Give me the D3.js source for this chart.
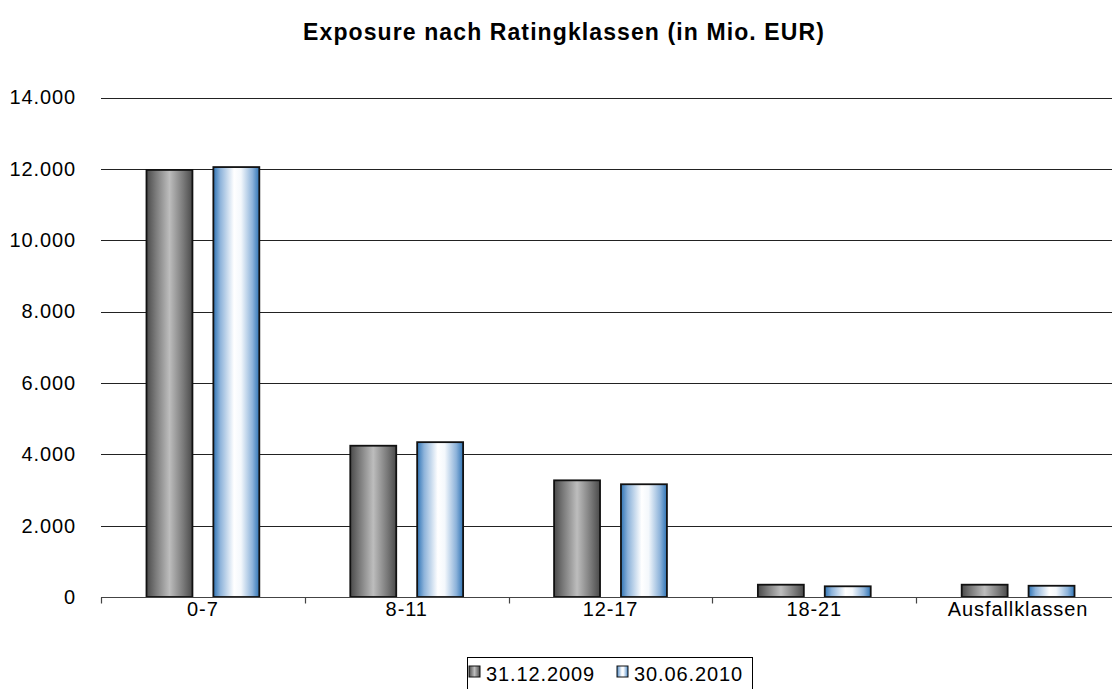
<!DOCTYPE html>
<html>
<head>
<meta charset="utf-8">
<script src="https://cdn.jsdelivr.net/npm/d3@7"></script>
<style>
  html, body { margin: 0; padding: 0; background: #fff; }
  svg { display: block; font-family: "Liberation Sans", Arial, sans-serif; }
</style>
</head>
<body>
<svg id="chart" width="1112" height="689"></svg>
<script>
// Exposure by rating class, in EUR millions
const categories = ["0-7", "8-11", "12-17", "18-21", "Ausfallklassen"];
const seriesNames = ["31.12.2009", "30.06.2010"];
const values2009 = [11970, 4240, 3270, 345, 345];
const values2010 = [12050, 4340, 3160, 300, 315];
const yTicks = [0, 2000, 4000, 6000, 8000, 10000, 12000, 14000];
const titleText = "Exposure nach Ratingklassen (in Mio. EUR)";

const svg = d3.select("#chart");
const margin = { left: 101, right: 1120, top: 97.5, bottom: 597 };
const labelFont = 20;
const labelSpacing = 0.9;

const defs = svg.append("defs");
function hGradient(id, stops) {
  const g = defs.append("linearGradient").attr("id", id)
    .attr("x1", "0%").attr("x2", "100%").attr("y1", "0%").attr("y2", "0%");
  stops.forEach(([o, c]) => g.append("stop").attr("offset", o).attr("stop-color", c));
}
hGradient("gGray", [["0%", "#4a4a4a"], ["20%", "#7a7a7a"], ["50%", "#bdbdbd"], ["80%", "#7a7a7a"], ["100%", "#4a4a4a"]]);
hGradient("gBlue", [["0%", "#2f74b5"], ["15%", "#8db3da"], ["45%", "#ffffff"], ["60%", "#f4f8fc"], ["85%", "#8db3da"], ["100%", "#2f74b5"]]);
const fills = ["url(#gGray)", "url(#gBlue)"];

const x = d3.scaleBand().domain(categories).range([margin.left, margin.right]).paddingInner(0).paddingOuter(0);
const xInner = d3.scaleBand().domain(seriesNames).range([0, x.bandwidth()]).paddingInner(0.313).paddingOuter(0.68);
const y = d3.scaleLinear().domain([0, 14000]).range([margin.bottom, margin.top]);

const fmt = v => d3.format(",")(v).replace(/,/g, ".");

// Title
svg.append("text")
  .attr("x", 564).attr("y", 40)
  .attr("text-anchor", "middle")
  .attr("font-size", 23).attr("font-weight", "bold")
  .attr("letter-spacing", 1.1)
  .attr("fill", "#000")
  .text(titleText);

// Horizontal gridlines
svg.append("g").selectAll("line").data(yTicks.filter(d => d > 0)).join("line")
  .attr("x1", margin.left).attr("x2", 1112)
  .attr("y1", d => Math.round(y(d)) + 0.5).attr("y2", d => Math.round(y(d)) + 0.5)
  .attr("stroke", "#222").attr("stroke-width", 1);

// Y axis labels
const yAxis = d3.axisLeft(y).tickValues(yTicks).tickFormat(fmt).tickSize(0).tickPadding(25);
const gy = svg.append("g").attr("transform", `translate(${margin.left},0)`).call(yAxis);
gy.select(".domain").remove();
gy.selectAll("text").attr("font-size", labelFont).attr("letter-spacing", labelSpacing)
  .attr("fill", "#000").attr("font-family", "Liberation Sans, Arial, sans-serif");

// Bars
const groups = svg.append("g").selectAll("g").data(categories).join("g")
  .attr("transform", d => `translate(${x(d)},0)`);
groups.selectAll("rect")
  .data((d, i) => [values2009[i], values2010[i]].map((v, k) => ({ v, k })))
  .join("rect")
  .attr("x", d => xInner(seriesNames[d.k]))
  .attr("width", xInner.bandwidth())
  .attr("y", d => y(d.v))
  .attr("height", d => y(0) - y(d.v))
  .attr("fill", d => fills[d.k])
  .attr("stroke", "#111").attr("stroke-width", 1.8);

// X axis with category boundary ticks
const baseY = Math.round(y(0)) + 0.5;
svg.append("line").attr("x1", margin.left).attr("x2", 1112)
  .attr("y1", baseY).attr("y2", baseY).attr("stroke", "#444").attr("stroke-width", 1.2);
const bounds = categories.map(c => x(c)).concat([margin.right]);
svg.append("g").selectAll("line").data(bounds).join("line")
  .attr("x1", d => Math.round(d) + 0.5).attr("x2", d => Math.round(d) + 0.5)
  .attr("y1", baseY).attr("y2", baseY + 6)
  .attr("stroke", "#444").attr("stroke-width", 1.2);
svg.append("g").selectAll("text").data(categories).join("text")
  .attr("x", d => x(d) + x.bandwidth() / 2)
  .attr("y", 616)
  .attr("text-anchor", "middle")
  .attr("font-size", labelFont).attr("letter-spacing", labelSpacing).attr("fill", "#000")
  .text(d => d);

// Legend
const legend = svg.append("g");
legend.append("rect").attr("x", 467.5).attr("y", 657.5).attr("width", 285).attr("height", 40)
  .attr("fill", "#fff").attr("stroke", "#000").attr("stroke-width", 1);
const legendItems = [
  { name: seriesNames[0], fill: fills[0], x: 469 },
  { name: seriesNames[1], fill: fills[1], x: 617 }
];
legendItems.forEach(it => {
  legend.append("rect").attr("x", it.x).attr("y", 666).attr("width", 11).attr("height", 11)
    .attr("fill", it.fill).attr("stroke", "#111").attr("stroke-width", 1);
  legend.append("text").attr("x", it.x + 17).attr("y", 681)
    .attr("font-size", labelFont).attr("letter-spacing", labelSpacing).attr("fill", "#000").text(it.name);
});
</script>
</body>
</html>
